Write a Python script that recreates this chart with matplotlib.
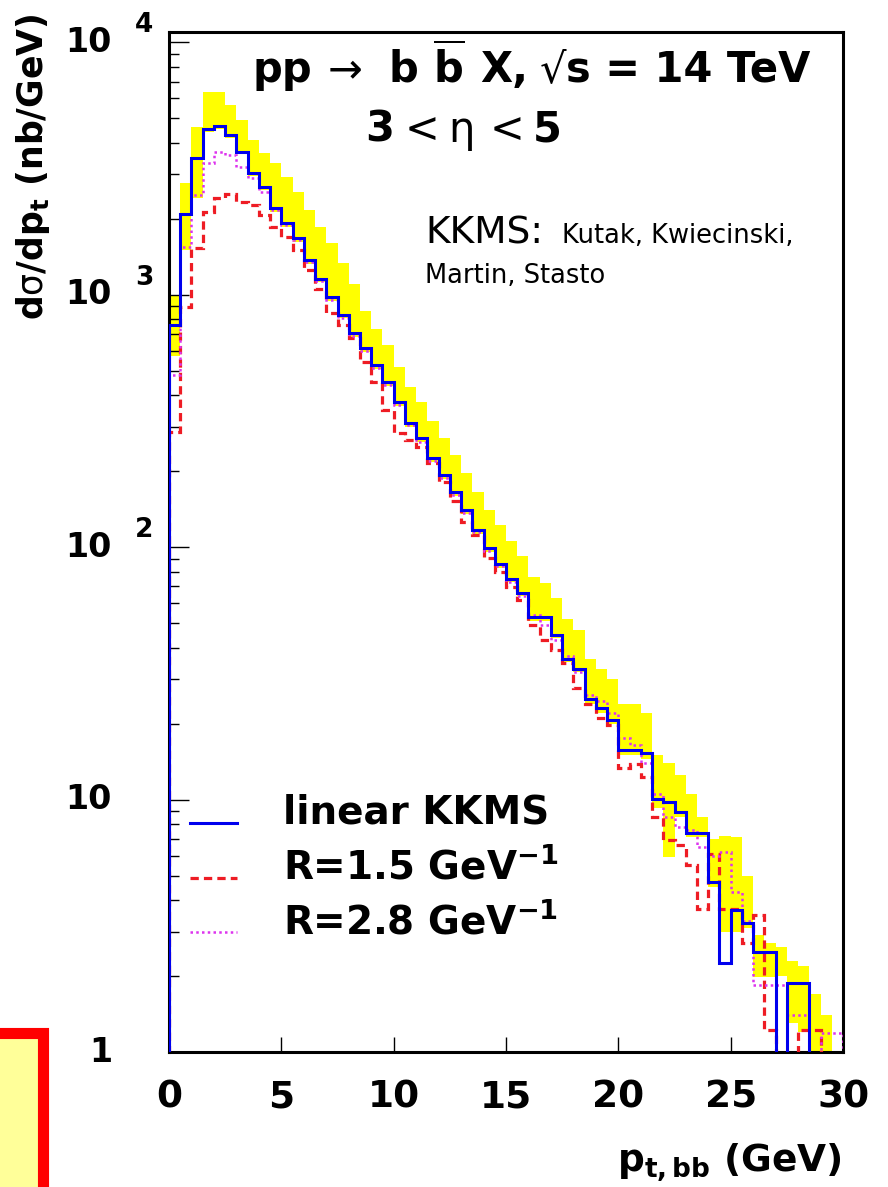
import numpy as np
import matplotlib
matplotlib.use("Agg")
import matplotlib.pyplot as plt
from matplotlib.patches import Rectangle
from matplotlib.lines import Line2D
from matplotlib.ticker import LogLocator, NullFormatter, NullLocator
from matplotlib.transforms import blended_transform_factory, ScaledTranslation

plt.rcParams['font.family'] = ['DejaVu Sans']
plt.rcParams['mathtext.fontset'] = 'dejavusans'
plt.rcParams['mathtext.default'] = 'bf'

# ---- data: d sigma / d p_t (nb/GeV) in 0.5 GeV bins of p_t,bb -------------
bin_edges = np.linspace(0.0, 30.0, 61)

linear_kkms = [757, 2100, 3470, 4520, 4650, 4280, 3670, 3030, 2670, 2200,
               1920, 1675, 1370, 1160, 977, 835, 704, 614, 526, 450,
               375, 310, 270, 225, 193, 165, 140, 117, 99, 86,
               75, 66, 53, 53, 45, 36, 33, 25, 23, 20.6,
               15.7, 15.7, 15.3, 10.1, 9.8, 8.9, 7.4, 7.4, 4.7, 2.25,
               3.65, 3.24, 2.49, 2.49, 0, 1.88, 1.88, 0, 0, 0]

r_1p5 = [285, 892, 1528, 2120, 2430, 2520, 2330, 2260, 2065, 1850,
         1690, 1500, 1250, 1050, 845, 757, 673, 540, 450, 349,
         283, 265, 249, 215, 181, 153, 126, 112, 91, 80,
         69.5, 61.7, 49, 42.8, 39, 34.7, 27.7, 24, 21, 19.7,
         13.4, 13.9, 12.3, 8.5, 6.9, 6.6, 5.5, 3.7, 6.1, 3.7,
         3.7, 2.7, 3.5, 1.22, 0, 0, 1.22, 1.22, 0, 0]

r_2p8 = [480, 1543, 2478, 3318, 3667, 3568, 3200, 2893, 2547, 2161,
         1885, 1643, 1345, 1130, 951, 810, 690, 600, 512, 440,
         365, 305, 262, 220, 188, 161, 137, 115, 97, 84,
         73, 64, 54, 49, 43, 37, 32, 26, 24.5, 22,
         17.5, 16.5, 14, 10.5, 8.5, 7.8, 7.6, 6.5, 6.0, 6.2,
         4.3, 3.3, 1.85, 1.85, 1.85, 1.4, 1.4, 0, 1.19, 1.19]

band_lo = [570, 1500, 2430, 4400, 4550, 4200, 3600, 2950, 2600, 2130,
           1860, 1620, 1330, 1120, 945, 810, 680, 595, 510, 436,
           362, 300, 262, 218, 187, 160, 136, 113, 96, 83,
           72.5, 64, 51, 51, 43.5, 35, 32, 24, 22, 20,
           15, 15, 14.5, 9.3, 5.9, 8.5, 7.1, 7.1, 4.5, 3.0,
           3.0, 3.1, 1.98, 1.98, 2.0, 1.3, 1.2, 1.0, 1.0, 0]

band_hi = [1000, 2765, 4610, 6340, 6340, 5630, 4910, 4090, 3650, 3320,
           2920, 2550, 2160, 1850, 1600, 1333, 1100, 860, 730, 630,
           520, 430, 375, 315, 270, 232, 197, 165, 140, 122,
           106, 92, 76, 72, 63, 52, 47, 36, 33, 30,
           24, 24, 22, 15, 14, 12.5, 10.5, 8.5, 7.0, 7.2,
           7.1, 5.0, 2.9, 2.7, 2.6, 2.3, 2.2, 1.7, 1.4, 0]

legend_labels = ["linear KKMS", "R=1.5 GeV$^{-1}$", "R=2.8 GeV$^{-1}$"]
x_ticks = [0, 5, 10, 15, 20, 25, 30]
y_tick_labels = {1: ("1", ""), 10: ("10", ""), 100: ("10", "2"),
                 1000: ("10", "3"), 10000: ("10", "4")}

# ---- figure geometry (pixels) ---------------------------------------------
W, H, DPI = 888, 1187, 100
fig = plt.figure(figsize=(W / DPI, H / DPI), dpi=DPI)
fig.patch.set_facecolor("white")


def fx(x):
    return x / W


def fy(y):
    return 1.0 - y / H


L, R, T, B = 169, 843, 32, 1052
ax = fig.add_axes([fx(L), fy(B), fx(R - L), fy(T) - fy(B)])
ax.set_xlim(0, 30)
ax.set_yscale("log")
ax.set_ylim(1, 1.1e4)

FLOOR = 1e-3
edges = bin_edges
lo = np.clip(np.asarray(band_lo, float), FLOOR, None)
hi = np.clip(np.asarray(band_hi, float), FLOOR, None)
ax.stairs(np.where(hi > lo, hi, lo), edges, baseline=lo, fill=True,
          color="#ffff00", lw=0, zorder=1)

RED_STYLE = dict(color="#ee1c24", lw=2.3, linestyle=(0, (2.6, 1.6)))
MAG_STYLE = dict(color="#dd33ee", lw=1.8, linestyle=(0, (1.0, 1.3)))
BLUE_STYLE = dict(color="#0000ee", lw=2.2, linestyle="-")

ax.stairs(np.clip(np.asarray(r_1p5, float), FLOOR, None), edges,
          baseline=FLOOR, zorder=3, **RED_STYLE)
ax.stairs(np.clip(np.asarray(r_2p8, float), FLOOR, None), edges,
          baseline=FLOOR, zorder=3, **MAG_STYLE)
ax.stairs(np.clip(np.asarray(linear_kkms, float), FLOOR, None), edges,
          baseline=FLOOR, zorder=4, **BLUE_STYLE)

for s in ax.spines.values():
    s.set_linewidth(2.2)
    s.set_zorder(2.5)

ax.set_xticks(x_ticks)
ax.xaxis.set_minor_locator(NullLocator())
ax.tick_params(axis="x", which="major", direction="in", length=11, width=1.0,
               top=False, pad=20, labelsize=27)
for lab in ax.get_xticklabels():
    lab.set_fontweight("bold")
ax.yaxis.set_major_locator(LogLocator(base=10, numticks=10))
ax.yaxis.set_minor_locator(LogLocator(base=10, subs=np.arange(2, 10), numticks=10))
ax.yaxis.set_major_formatter(NullFormatter())
ax.yaxis.set_minor_formatter(NullFormatter())
ax.tick_params(axis="y", which="major", direction="in", length=14.4, width=1.0, right=False)
ax.tick_params(axis="y", which="minor", direction="in", length=7.2, width=1.0, right=False)

# y tick labels in ROOT-like "10 ^n" style
trans = blended_transform_factory(fig.transFigure, ax.transData)
sup_shift = ScaledTranslation(0, 17 / DPI, fig.dpi_scale_trans)
for yval, (base_txt, exp_txt) in y_tick_labels.items():
    fig.text(fx(112), yval, base_txt, transform=trans, ha="right", va="center",
             fontsize=24, fontweight="bold")
    if exp_txt:
        fig.text(fx(135), yval, exp_txt, transform=trans + sup_shift, ha="left",
                 va="center", fontsize=19, fontweight="bold")

# axis titles
fig.text(fx(33), fy(14), "d$\\mathrm{\u03c3}$/dp$_{t}$ (nb/GeV)", rotation=90,
         ha="center", va="top", fontsize=25, fontweight="bold")
fig.text(fx(842), fy(1163), r"p$_{t,bb}$ (GeV)", ha="right", va="center",
         fontsize=27, fontweight="bold")

# process label, placed piece by piece
title_parts = [(253, "pp", "bold"), (328, "\u2192", "normal"), (388, "b", "bold"),
               (433, r"$\overline{\mathbf{b}}$", "bold"), (480, "X,", "bold"),
               (540, "\u221a", "normal"), (566, "s = 14 TeV", "bold")]
for xp, txt, wt in title_parts:
    fig.text(fx(xp), fy(82), txt, ha="left", va="baseline", fontsize=30,
             fontweight=wt)
eta_parts = [(365, "3", "bold"), (405, "<", "normal"), (448, "\u03b7", "normal"),
             (490, "<", "normal"), (533, "5", "bold")]
for xp, txt, wt in eta_parts:
    fig.text(fx(xp), fy(142), txt, ha="left", va="baseline", fontsize=30,
             fontweight=wt)

fig.text(fx(425), fy(243), "KKMS:", ha="left", va="baseline", fontsize=27)
fig.text(fx(562), fy(243), "Kutak, Kwiecinski,", ha="left", va="baseline", fontsize=18.5)
fig.text(fx(425), fy(283), "Martin, Stasto", ha="left", va="baseline", fontsize=18.5)

# legend
for row, (label, style) in enumerate(zip(legend_labels,
                                         [BLUE_STYLE, RED_STYLE, MAG_STYLE])):
    yrow = 823 + 54.5 * row
    fig.add_artist(Line2D([fx(190), fx(237)], [fy(yrow), fy(yrow)],
                          transform=fig.transFigure, **style))
    fig.text(fx(283), fy(yrow + 1), label, ha="left", va="baseline",
             fontsize=28, fontweight="bold")

# framed note box in the lower-left corner
fig.add_artist(Rectangle((fx(-30), fy(1220)), fx(72.5), fy(1032.5) - fy(1220),
                         transform=fig.transFigure, facecolor="#ffff99",
                         edgecolor="#ff0000", lw=8, clip_on=False))

fig.savefig("out.png", dpi=DPI)
